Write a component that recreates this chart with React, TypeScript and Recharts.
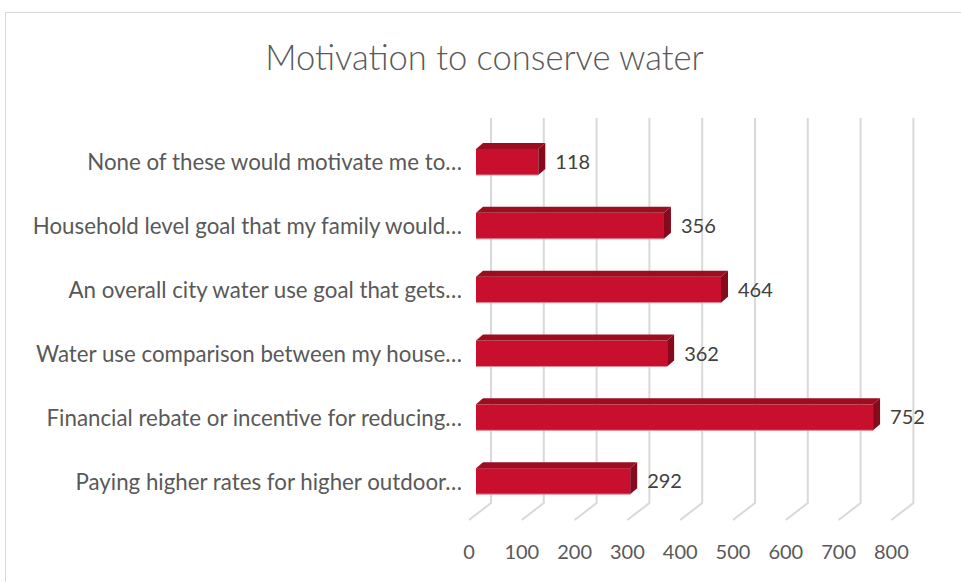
import { BarChart, Bar, XAxis, YAxis, CartesianGrid, LabelList } from 'recharts'

const categories = [
  'None of these would motivate me to…',
  'Household level goal that my family would…',
  'An overall city water use goal that gets…',
  'Water use comparison between my house…',
  'Financial rebate or incentive for reducing…',
  'Paying higher rates for higher outdoor…',
]
const counts = [118, 356, 464, 362, 752, 292]
const xTicks = [0, 100, 200, 300, 400, 500, 600, 700, 800]

const data = categories.map((name, i) => ({ name, value: counts[i] }))

const FONT = 'Lato, "Open Sans", sans-serif'
const TEXT = '#595959'
const GRID = '#d9d9d9'
const DX = 7
const DY = 6

function Bar3D(props: any) {
  const { x, y, width, height } = props
  const r = x + width
  return (
    <g>
      <rect x={x} y={y} width={width} height={height} fill="#c8102e" />
      <line x1={x} y1={y + height} x2={r} y2={y + height} stroke="#e58a98" strokeWidth={1} />
      <polygon points={`${x},${y} ${x + DX},${y - DY} ${r + DX},${y - DY} ${r},${y}`} fill="#9c0d22" />
      <polygon points={`${r},${y} ${r + DX},${y - DY} ${r + DX},${y + height - DY} ${r},${y + height}`} fill="#840a1c" />
    </g>
  )
}

function GridLine(props: any) {
  const { x1, y1, y2 } = props
  return (
    <path
      d={`M${x1 + 15},${y1 - 12} V${y2 - 10} L${x1 - 7},${y2 + 7}`}
      stroke={GRID}
      strokeWidth={2}
      fill="none"
    />
  )
}

function XTick(props: any) {
  const { x, y, payload } = props
  return (
    <text x={x - 7} y={y + 30} textAnchor="middle" dominantBaseline="central" fill={TEXT} fontSize={20} fontFamily={FONT}>
      {payload.value}
    </text>
  )
}

function YTick(props: any) {
  const { x, y, payload } = props
  return (
    <text x={x} y={y} textAnchor="end" dominantBaseline="central" fill={TEXT} fontSize={22.3} fontFamily={FONT}>
      {payload.value}
    </text>
  )
}

export default function App() {
  return (
    <div style={{ position: 'absolute', left: 0, top: 0, width: 961, height: 582, overflow: 'hidden', background: '#fff' }}>
      <div
        style={{
          position: 'absolute',
          left: 5,
          top: 12,
          width: 1000,
          height: 700,
          border: `1px solid ${GRID}`,
        }}
      />
      <div
        style={{
          position: 'absolute',
          left: 5,
          top: 35,
          width: 959,
          textAlign: 'center',
          fontFamily: FONT,
          fontSize: 34.5,
          fontWeight: 300,
          color: TEXT,
          lineHeight: '44px',
        }}
      >
        Motivation to conserve water
      </div>
      <div style={{ position: 'absolute', left: 0, top: 0 }}>
        <BarChart
          width={961}
          height={582}
          data={data}
          layout="vertical"
          margin={{ top: 130, right: 62.6, bottom: 39, left: 0 }}
          barSize={26}
        >
          <CartesianGrid horizontal={false} vertical={GridLine} />
          <XAxis
            type="number"
            domain={[0, 800]}
            ticks={xTicks}
            height={30}
            axisLine={false}
            tickLine={false}
            tick={XTick}
            interval={0}
          />
          <YAxis
            type="category"
            dataKey="name"
            width={476}
            axisLine={false}
            tickLine={false}
            tickMargin={8}
            tick={YTick}
            interval={0}
          />
          <Bar dataKey="value" shape={Bar3D} isAnimationActive={false}>
            <LabelList dataKey="value" position="right" offset={17} fill="#404040" fontSize={20} fontFamily={FONT} />
          </Bar>
        </BarChart>
      </div>
    </div>
  )
}
